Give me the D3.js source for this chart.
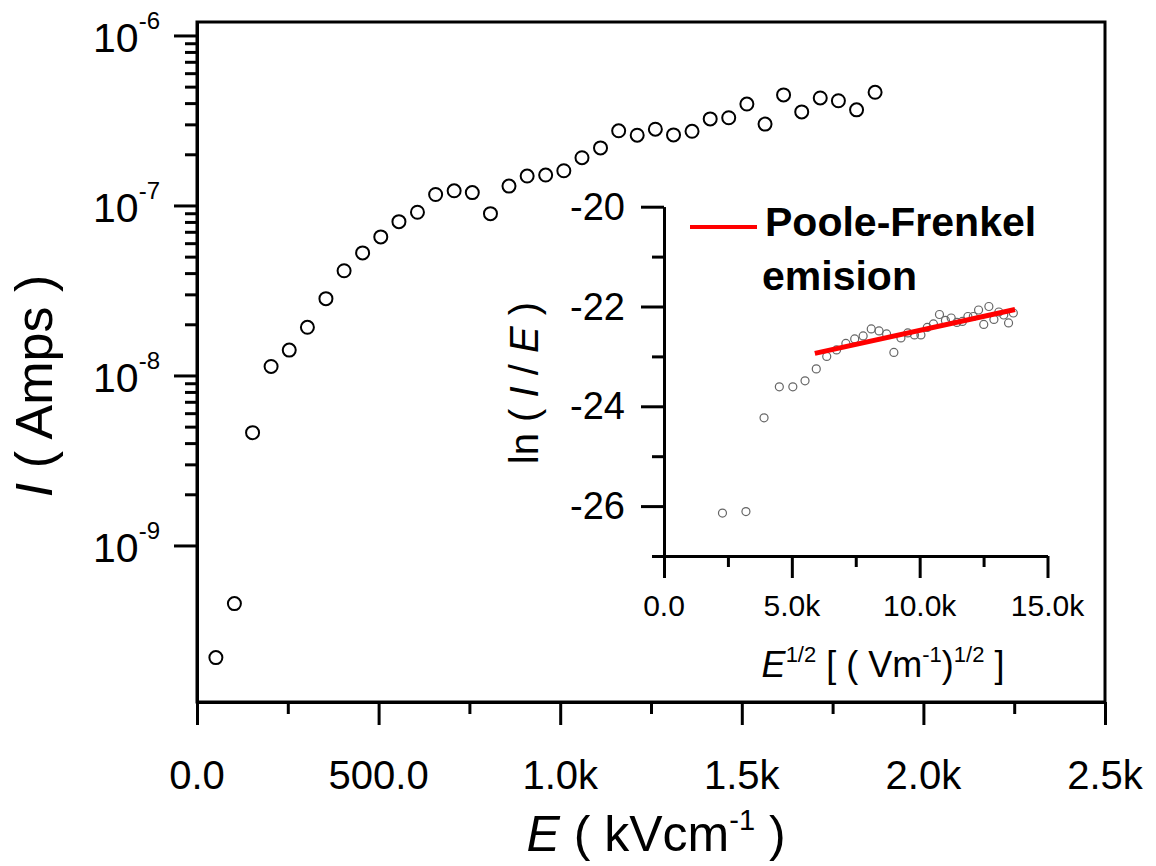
<!DOCTYPE html>
<html>
<head>
<meta charset="utf-8">
<script src="https://d3js.org/d3.v7.min.js"></script>
<style>
  body { margin: 0; background: #fff; }
  svg text { font-family: "Liberation Sans", Arial, sans-serif; fill: #000; }
</style>
</head>
<body>
<div id="chart"></div>
<script>
// main plot: I vs E
var fieldE = [52, 103, 153, 204, 254, 304, 355, 405, 456, 506, 556, 607, 657, 708, 758, 808, 859, 909, 960, 1010,
              1060, 1111, 1161, 1212, 1262, 1312, 1363, 1413, 1464, 1514, 1564, 1615, 1665, 1716, 1766, 1816, 1867];
var currentI = [2.19e-10, 4.55e-10, 4.61e-9, 1.13e-8, 1.41e-8, 1.92e-8, 2.83e-8, 4.13e-8, 5.26e-8, 6.53e-8,
                8.03e-8, 9.12e-8, 1.16e-7, 1.22e-7, 1.19e-7, 8.95e-8, 1.30e-7, 1.49e-7, 1.51e-7, 1.60e-7,
                1.91e-7, 2.18e-7, 2.75e-7, 2.59e-7, 2.81e-7, 2.60e-7, 2.73e-7, 3.23e-7, 3.28e-7, 3.95e-7,
                3.01e-7, 4.47e-7, 3.55e-7, 4.29e-7, 4.13e-7, 3.65e-7, 4.63e-7];

// inset: Poole-Frenkel plot
var sqrtE = [2287, 3205, 3913, 4511, 5039, 5516, 5956, 6365, 6749, 7113, 7459, 7789, 8106, 8411, 8706, 8991,
             9267, 9535, 9795, 10049, 10297, 10539, 10775, 11007, 11233, 11456, 11673, 11887, 12098, 12304,
             12507, 12707, 12904, 13098, 13289, 13477, 13663];
var lnIE = [-26.14, -26.11, -24.23, -23.61, -23.61, -23.49, -23.25, -23.00, -22.87, -22.74, -22.65, -22.59,
            -22.45, -22.49, -22.55, -22.92, -22.63, -22.53, -22.57, -22.57, -22.42, -22.35, -22.16, -22.28,
            -22.23, -22.32, -22.30, -22.20, -22.20, -22.07, -22.36, -22.00, -22.26, -22.11, -22.17, -22.33, -22.13];
var fitX = [5900, 13730];
var fitY = [-22.94, -22.06];

// ticks
var xTicks = [0, 500, 1000, 1500, 2000, 2500];
var xTickLabels = ["0.0", "500.0", "1.0k", "1.5k", "2.0k", "2.5k"];
var xMinorTicks = [250, 750, 1250, 1750, 2250];
var yExponents = [-6, -7, -8, -9];
var yMinorMantissas = [2, 3, 4, 5, 6, 7, 8, 9];
var yMinorDecades = [-9, -8, -7];
var insetXTicks = [0, 5000, 10000, 15000];
var insetXTickLabels = ["0.0", "5.0k", "10.0k", "15.0k"];
var insetXMinor = [2500, 7500, 12500];
var insetYTicks = [-20, -22, -24, -26];
var insetYTickLabels = ["-20", "-22", "-24", "-26"];
var insetYMinor = [-21, -23, -25, -27];

var W = 1156, H = 866;

var svg = d3.select("#chart")
			.append("svg")
			.attr("width", W)
			.attr("height", H);

var x = d3.scaleLinear().domain([0, 2500]).range([197, 1105]);
var y = d3.scaleLog().domain([1.2e-10, 1.2e-6]).range([702, 22]);

var ix = d3.scaleLinear().domain([0, 15000]).range([664, 1047.5]);
var iy = d3.scaleLinear().domain([-27, -20]).range([556, 206.7]);

function thick(g) {
	g.selectAll("path.domain").attr("stroke", "#000").attr("stroke-width", 3);
	g.selectAll(".tick line").attr("stroke", "#000").attr("stroke-width", 3);
	g.selectAll(".tick text").remove();
}

// frame of main plot
svg.append("rect")
   .attr("x", 197).attr("y", 22)
   .attr("width", 1105 - 197).attr("height", 702 - 22)
   .attr("fill", "none")
   .attr("stroke", "#000")
   .attr("stroke-width", 3);

// main x axis
svg.append("g")
   .attr("transform", "translate(0,702)")
   .call(d3.axisBottom(x).tickValues(xTicks).tickSize(23).tickSizeOuter(0))
   .call(thick);
svg.append("g")
   .attr("transform", "translate(0,702)")
   .call(d3.axisBottom(x).tickValues(xMinorTicks).tickSize(12).tickSizeOuter(0))
   .call(thick);

svg.append("g").selectAll("text")
   .data(xTicks)
   .join("text")
   .attr("x", d => x(d))
   .attr("y", 789)
   .attr("text-anchor", "middle")
   .style("font-size", "40px")
   .text((d, i) => xTickLabels[i]);

// main y axis (log)
var yMinor = [];
yMinorDecades.forEach(function(e) {
	yMinorMantissas.forEach(function(m) { yMinor.push(m * Math.pow(10, e)); });
});

svg.append("g")
   .attr("transform", "translate(197,0)")
   .call(d3.axisLeft(y).tickValues(yExponents.map(e => Math.pow(10, e))).tickSize(23).tickSizeOuter(0))
   .call(thick);
svg.append("g")
   .attr("transform", "translate(197,0)")
   .call(d3.axisLeft(y).tickValues(yMinor).tickSize(12).tickSizeOuter(0))
   .call(thick);

svg.append("g").selectAll("text")
   .data(yExponents)
   .join("text")
   .attr("x", 160)
   .attr("y", d => y(Math.pow(10, d)) + 17)
   .attr("text-anchor", "end")
   .style("font-size", "41px")
   .each(function(d) {
		var t = d3.select(this);
		t.append("tspan").text("10");
		t.append("tspan").attr("dy", -23).style("font-size", "24px").text(d);
   });

// axis titles
var xt = svg.append("text")
			.attr("x", 656).attr("y", 851)
			.attr("text-anchor", "middle")
			.style("font-size", "50px");
xt.append("tspan").style("font-style", "italic").text("E");
xt.append("tspan").text(" ( kVcm");
xt.append("tspan").attr("dy", -21).style("font-size", "29px").text("-1");
xt.append("tspan").attr("dy", 21).text(" )");

var yt = svg.append("text")
			.attr("transform", "translate(52,386) rotate(-90)")
			.attr("text-anchor", "middle")
			.style("font-size", "52px");
yt.append("tspan").style("font-style", "italic").text("I");
yt.append("tspan").text(" ( Amps )");

// main points
svg.append("g").selectAll("circle")
   .data(fieldE)
   .join("circle")
   .attr("cx", d => x(d))
   .attr("cy", (d, i) => y(currentI[i]))
   .attr("r", 6.5)
   .attr("fill", "none")
   .attr("stroke", "#000")
   .attr("stroke-width", 2);

// ---- inset ----
svg.append("g")
   .attr("transform", "translate(0,556)")
   .call(d3.axisBottom(ix).tickValues(insetXTicks).tickSize(22).tickSizeOuter(0))
   .call(thick);
svg.append("g")
   .attr("transform", "translate(0,556)")
   .call(d3.axisBottom(ix).tickValues(insetXMinor).tickSize(11).tickSizeOuter(0))
   .call(thick);
svg.append("g")
   .attr("transform", "translate(664,0)")
   .call(d3.axisLeft(iy).tickValues(insetYTicks).tickSize(23).tickSizeOuter(0))
   .call(thick);
svg.append("g")
   .attr("transform", "translate(664,0)")
   .call(d3.axisLeft(iy).tickValues(insetYMinor).tickSize(12).tickSizeOuter(0))
   .call(thick);

svg.append("g").selectAll("text")
   .data(insetXTicks)
   .join("text")
   .attr("x", d => ix(d))
   .attr("y", 616)
   .attr("text-anchor", "middle")
   .style("font-size", "30px")
   .text((d, i) => insetXTickLabels[i]);

svg.append("g").selectAll("text")
   .data(insetYTicks)
   .join("text")
   .attr("x", 625)
   .attr("y", d => iy(d) + 13)
   .attr("text-anchor", "end")
   .style("font-size", "38px")
   .text((d, i) => insetYTickLabels[i]);

var ixt = svg.append("text")
			 .attr("x", 883).attr("y", 677)
			 .attr("text-anchor", "middle")
			 .style("font-size", "36px");
ixt.append("tspan").style("font-style", "italic").text("E");
ixt.append("tspan").attr("dy", -15).style("font-size", "22px").text("1/2");
ixt.append("tspan").attr("dy", 15).text(" [ ( Vm");
ixt.append("tspan").attr("dy", -15).style("font-size", "22px").text("-1");
ixt.append("tspan").attr("dy", 15).text(")");
ixt.append("tspan").attr("dy", -15).style("font-size", "22px").text("1/2");
ixt.append("tspan").attr("dy", 15).text(" ]");

var iyt = svg.append("text")
			 .attr("transform", "translate(538,383) rotate(-90)")
			 .attr("text-anchor", "middle")
			 .style("font-size", "40px");
iyt.append("tspan").text("ln ( ");
iyt.append("tspan").style("font-style", "italic").text("I");
iyt.append("tspan").text(" / ");
iyt.append("tspan").style("font-style", "italic").text("E");
iyt.append("tspan").text(" )");

svg.append("g").selectAll("circle")
   .data(sqrtE)
   .join("circle")
   .attr("cx", d => ix(d))
   .attr("cy", (d, i) => iy(lnIE[i]))
   .attr("r", 4)
   .attr("fill", "none")
   .attr("stroke", "#666")
   .attr("stroke-width", 1.2);

svg.append("line")
   .attr("x1", ix(fitX[0])).attr("y1", iy(fitY[0]))
   .attr("x2", ix(fitX[1])).attr("y2", iy(fitY[1]))
   .attr("stroke", "#ff0000")
   .attr("stroke-width", 5);

// legend
svg.append("line")
   .attr("x1", 690).attr("x2", 757)
   .attr("y1", 227).attr("y2", 227)
   .attr("stroke", "#ff0000")
   .attr("stroke-width", 4);
svg.append("text")
   .attr("x", 765).attr("y", 236)
   .style("font-size", "41px").style("font-weight", "bold")
   .text("Poole-Frenkel");
svg.append("text")
   .attr("x", 762).attr("y", 290)
   .style("font-size", "41px").style("font-weight", "bold")
   .text("emision");
</script>
</body>
</html>
